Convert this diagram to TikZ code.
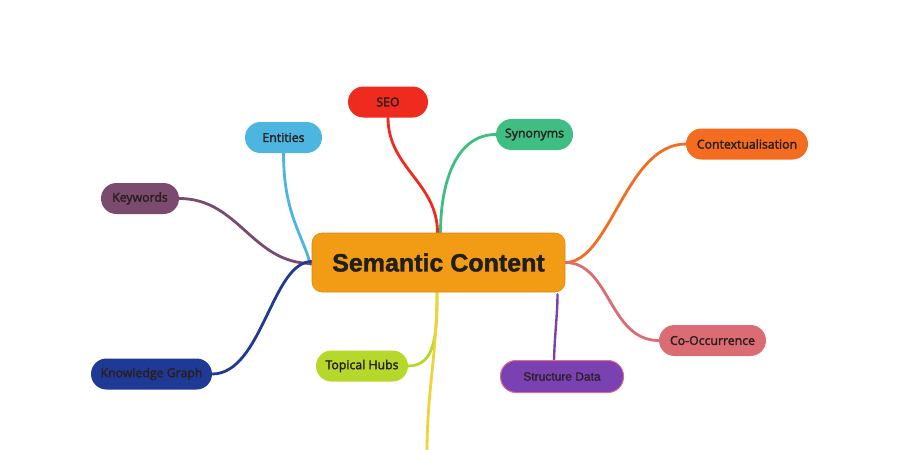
\documentclass[tikz,border=0pt]{standalone}
\usepackage{fontspec}
\setmainfont{Open Sans}[FakeBold=2.2]
\newfontfamily\headfont{Liberation Sans}[FakeBold=1.5]
\newfontfamily\strfont{Liberation Sans}[FakeBold=0.6]
\definecolor{cCenter}{HTML}{F29B14}
\definecolor{cSEO}{HTML}{EE2B1E}
\definecolor{cEnt}{HTML}{4DB6E0}
\definecolor{cSyn}{HTML}{3EBE82}
\definecolor{cCtx}{HTML}{F36C1F}
\definecolor{cKey}{HTML}{7A4B6F}
\definecolor{cKG}{HTML}{1F3A96}
\definecolor{cTop}{HTML}{B6D82B}
\definecolor{cStr}{HTML}{7A41B3}
\definecolor{cStrB}{HTML}{E26B8C}
\definecolor{cCo}{HTML}{DC6C73}
\definecolor{cYel}{HTML}{EDD43A}
\definecolor{cTxt}{HTML}{2A1F1F}
\tikzset{
  leaf/.style={minimum height=31pt, rounded corners=15.5pt, inner xsep=8pt, inner ysep=0pt,
     text=cTxt, font=\fontsize{12.3}{14}\selectfont, anchor=center},
  link/.style={line width=2.8pt, line cap=round},
}
\begin{document}
\begin{tikzpicture}[x=1pt,y=-1pt]
\useasboundingbox[fill=white] (0,0) rectangle (900,450);
% placeholders for routing
\coordinate (yend) at (427,452);
\node[minimum width=253pt, minimum height=59pt] (c) at (438.5,262.5) {};
\node[leaf, minimum width=80pt] (seo) at (388,102) {};
\node[leaf, minimum width=77pt] (ent) at (283.5,137.5) {};
\node[leaf, minimum width=77pt] (syn) at (534.5,134.5) {};
\node[leaf, minimum width=122pt] (ctx) at (747,144) {};
\node[leaf, minimum width=78pt] (key) at (140,198.5) {};
\node[leaf, minimum width=121pt] (kg) at (151.5,374) {};
\node[leaf, minimum width=92pt] (top) at (362,366) {};
\node[leaf, minimum width=124pt, minimum height=33pt] (str) at (562,376.5) {};
\node[leaf, minimum width=107pt] (co) at (712.5,340.5) {};

\draw[link, cSEO] (seo.south) .. controls +(0,50) and +(0,-50) .. ([xshift=-1pt]c.north);
\draw[link, cSyn] (syn.west) .. controls +(-40,0) and +(0,-50) .. ([xshift=2pt]c.north);
\draw[link, cEnt] (ent.south) .. controls +(0,60) and +(-8,-30) .. ([xshift=-128pt,yshift=-2pt]c.center);
\draw[link, cKey] (key.east) .. controls +(60,0) and +(-60,0) .. ([yshift=-1pt]c.west);
\draw[link, cKG] (kg.east) .. controls +(50,0) and +(-40,0) .. ([yshift=1pt]c.west);
\draw[link, cTop] (top.east) .. controls +(28,0) and +(0,40) .. ([xshift=-1.5pt]c.south);
\draw[link, cYel] ([xshift=-1.5pt]c.south) .. controls +(0,60) and +(0,-60) .. (yend);
\draw[link, cStr, line width=2.4pt] ([xshift=119pt,yshift=-2pt]c.south) .. controls +(0,20) and +(1,-30) .. ([xshift=-8pt]str.north);
\draw[link, cCtx] (ctx.west) .. controls +(-60,0) and +(45,0) .. (c.east);
\draw[link, cCo] (co.west) .. controls +(-50,0) and +(45,0) .. (c.east);

% boxes on top
\node[fill=cCenter, draw=cCenter!90!black, line width=0.6pt, rounded corners=10pt, minimum width=253pt, minimum height=59pt, font=\headfont\bfseries\fontsize{25}{28}\selectfont, text=black!88] at (c) {Semantic Content};
\node[leaf, fill=cSEO, minimum width=80pt] at (seo) {SEO};
\node[leaf, fill=cEnt, minimum width=77pt] at (ent) {Entities};
\node[leaf, fill=cSyn, minimum width=77pt] at (syn) {Synonyms};
\node[leaf, fill=cCtx, minimum width=122pt] at (ctx) {Contextualisation};
\node[leaf, fill=cKey, minimum width=78pt] at (key) {Keywords};
\node[leaf, fill=cKG, minimum width=121pt] at (kg) {Knowledge Graph};
\node[leaf, fill=cTop, minimum width=92pt] at (top) {Topical Hubs};
\node[leaf, fill=cStr, draw=cStrB, line width=1pt, minimum width=123pt, minimum height=32pt, font=\strfont\fontsize{12}{14}\selectfont] at (str) {Structure Data};
\node[leaf, fill=cCo, minimum width=107pt] at (co) {Co-Occurrence};
\end{tikzpicture}
\end{document}
